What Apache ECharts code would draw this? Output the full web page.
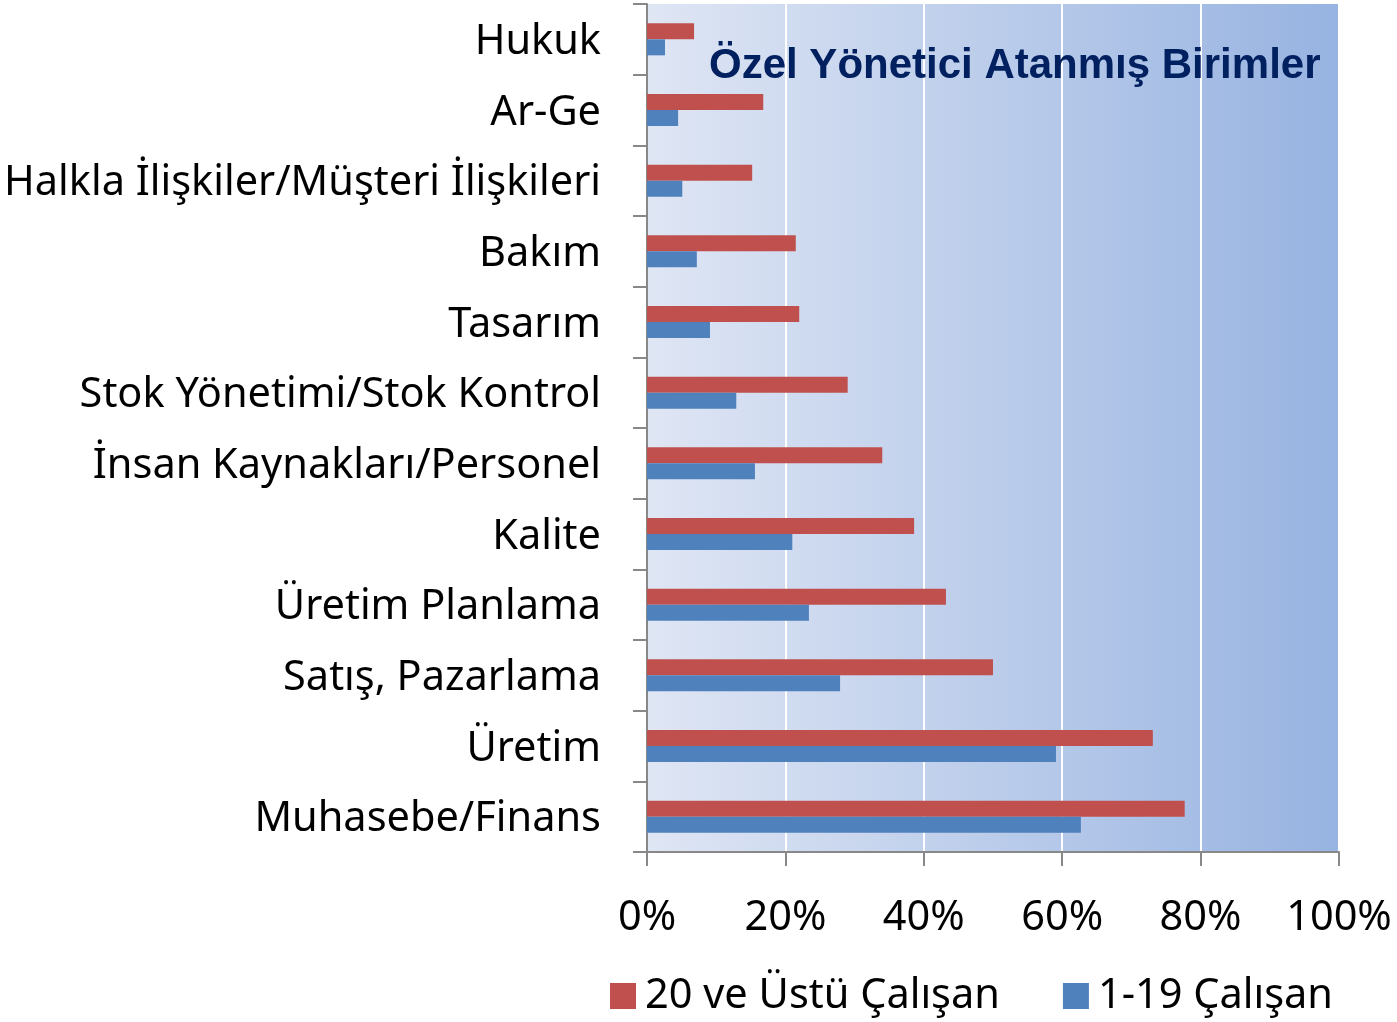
<!DOCTYPE html>
<html>
<head>
<meta charset="utf-8">
<script src="https://cdn.jsdelivr.net/npm/echarts@6/dist/echarts.min.js"></script>
<style>
  html, body { margin: 0; padding: 0; background: #ffffff; }
  #chart { width: 1397px; height: 1022px; }
</style>
</head>
<body>
<div id="chart"></div>
<script>
// Units that have a dedicated manager, by company size (share of firms)
const categories = [
  'Hukuk',
  'Ar-Ge',
  'Halkla İlişkiler/Müşteri İlişkileri',
  'Bakım',
  'Tasarım',
  'Stok Yönetimi/Stok Kontrol',
  'İnsan Kaynakları/Personel',
  'Kalite',
  'Üretim Planlama',
  'Satış, Pazarlama',
  'Üretim',
  'Muhasebe/Finans'
];
const large = [6.8, 16.8, 15.2, 21.5, 22.0, 29.0, 34.0, 38.6, 43.2, 50.0, 73.1, 77.7];
const small = [2.6, 4.5, 5.1, 7.2, 9.1, 12.9, 15.6, 21.0, 23.4, 27.9, 59.1, 62.7];
const seriesNames = ['20 ve Üstü Çalışan', '1-19 Çalışan'];
const chartTitle = 'Özel Yönetici Atanmış Birimler';

const labelFont = '"Noto Sans", "Open Sans", sans-serif';
const labelSize = 41.5;

const chart = echarts.init(document.getElementById('chart'));
chart.setOption({
  animation: false,
  title: {
    text: chartTitle,
    left: 704,
    top: 40,
    textStyle: {
      fontFamily: '"Liberation Sans", Arial, sans-serif',
      fontWeight: 'bold',
      fontSize: 42,
      color: '#002060'
    }
  },
  legend: {
    bottom: 0,
    left: 605,
    itemWidth: 26,
    itemHeight: 26,
    itemGap: 63,
    icon: 'rect',
    textStyle: { fontFamily: labelFont, fontSize: labelSize, color: '#000', padding: [0, 0, 0, 4] },
    data: seriesNames
  },
  grid: {
    left: 647,
    right: 58,
    top: 4,
    bottom: 170,
    show: true,
    borderWidth: 0,
    backgroundColor: new echarts.graphic.LinearGradient(0, 0, 1, 0, [
      { offset: 0, color: '#dfe6f4' },
      { offset: 1, color: '#97b3e1' }
    ])
  },
  xAxis: {
    type: 'value',
    min: 0,
    max: 100,
    interval: 20,
    axisLine: { show: true, lineStyle: { color: '#888888', width: 2 } },
    axisTick: { show: true, length: 14, lineStyle: { color: '#888888', width: 2 } },
    splitLine: { show: true, lineStyle: { color: '#ffffff', width: 2 } },
    axisLabel: {
      formatter: '{value}%',
      margin: 45,
      fontFamily: labelFont,
      fontSize: labelSize,
      color: '#000'
    }
  },
  yAxis: {
    type: 'category',
    inverse: true,
    data: categories,
    axisLine: { show: true, lineStyle: { color: '#888888', width: 2 } },
    axisTick: { show: true, length: 14, lineStyle: { color: '#888888', width: 2 } },
    axisLabel: {
      margin: 46,
      formatter: '{c|{value}}',
      rich: {
        c: {
          padding: [6, 0, 0, 0],
          fontFamily: labelFont,
          fontSize: labelSize,
          color: '#000'
        }
      },
      fontFamily: labelFont,
      fontSize: labelSize,
      color: '#000'
    }
  },
  series: [
    {
      name: seriesNames[0],
      type: 'bar',
      data: large,
      barWidth: 16,
      barGap: '0%',
      itemStyle: { color: '#c0504d' }
    },
    {
      name: seriesNames[1],
      type: 'bar',
      data: small,
      barWidth: 16,
      barGap: '0%',
      itemStyle: { color: '#4f81bd' }
    }
  ]
});
</script>
</body>
</html>
